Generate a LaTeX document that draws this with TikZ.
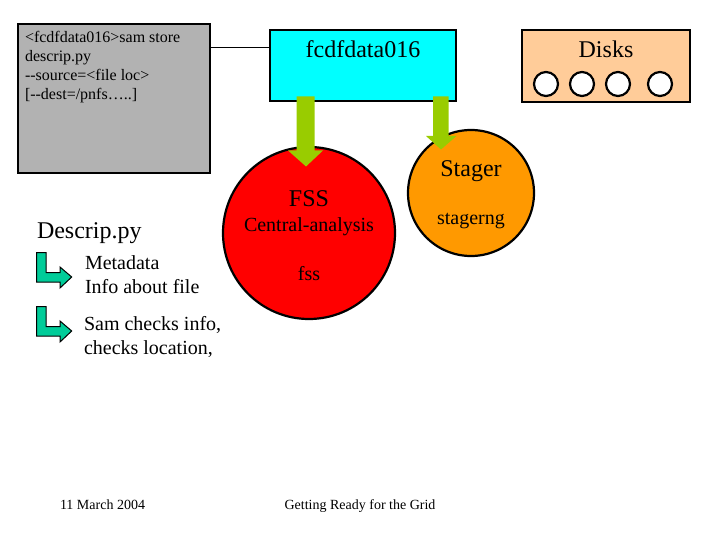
\documentclass[tikz,border=0pt]{standalone}
\usepackage{fontspec}
\setmainfont{Liberation Serif}
\newcommand{\fpx}[1]{\fontsize{#1pt}{#1pt}\selectfont}
\tikzset{
  boxshape/.style={draw=black,line width=2.2pt,rectangle,inner sep=0pt,outer sep=0pt,anchor=north west},
  ballshape/.style={draw=black,line width=2.2pt,circle,inner sep=0pt,outer sep=0pt},
  disk/.style={ballshape,fill=white,minimum size=24pt},
  greenarrow/.style={fill=arrowgreen,draw=none},
  bentarrow/.style={fill=bentgreen,draw=black,line width=1pt,line join=miter},
  label/.style={inner sep=0pt,outer sep=0pt,anchor=base west,text=black},
  labelc/.style={inner sep=0pt,outer sep=0pt,anchor=base,text=black}
}
\definecolor{arrowgreen}{HTML}{99CC00}
\definecolor{bentgreen}{HTML}{00CC99}
\definecolor{graybox}{HTML}{B2B2B2}
\definecolor{diskbox}{HTML}{FFCC99}
\definecolor{stagerorange}{HTML}{FF9900}
\definecolor{hostcyan}{HTML}{00FFFF}
\definecolor{fssred}{HTML}{FF0000}
\begin{document}
\begin{tikzpicture}[x=1pt,y=-1pt]
\useasboundingbox (0,0) rectangle (720,540);
% boxes
\node[boxshape,fill=graybox,minimum width=192pt,minimum height=149pt] (gray) at (18,24) {};
\node[boxshape,fill=hostcyan,minimum width=186pt,minimum height=71pt] (host) at (270,30) {};
\node[boxshape,fill=diskbox,minimum width=168pt,minimum height=72pt] (disks) at (522,30) {};
\coordinate (link) at (240,47.5);
\draw[black,line width=1.8pt] (gray.east |- link) -- (host.west |- link);
% disks
\node[disk] (d1) at (546,84) {};
\node[disk] (d2) at (582,84) {};
\node[disk] (d3) at (618,84) {};
\node[disk] (d4) at (660,84) {};
% circles
\node[ballshape,fill=fssred,minimum size=172pt] (fss) at (309,233) {};
\node[ballshape,fill=stagerorange,minimum size=126pt] (stager) at (471,193) {};
% block arrows
\fill[greenarrow] (296.5,96.5) -- (314.5,96.5) -- (314.5,150.5) -- (323,150.5) -- (306,166.5) -- (288,150.5) -- (296.5,150.5) -- cycle;
\fill[greenarrow] (433,96.5) -- (448.5,96.5) -- (448.5,136) -- (456.5,136) -- (441,149.5) -- (426,136) -- (433,136) -- cycle;
% bent arrows
\draw[bentarrow] (36.7,252.7) -- (46,252.7) -- (46,272.7) -- (60,272.7) -- (60,267) -- (71.7,277) -- (60,288) -- (60,282) -- (36.7,282) -- cycle;
\draw[bentarrow] (36.7,306.7) -- (46,306.7) -- (46,326.7) -- (60,326.7) -- (60,321) -- (71.7,331) -- (60,342) -- (60,336) -- (36.7,336) -- cycle;
% gray text
\node[label] (g1) at (25,43) {\fpx{16}<fcdfdata016>sam store};
\node[label] (g2) at (25,62) {\fpx{16}descrip.py};
\node[label] (g3) at (25,81) {\fpx{16}-{}-source=<file loc>};
\node[label] (g4) at (25,100) {\fpx{16}[-{}-dest=/pnfs…..]};
% titles
\node[labelc] (t1) at (363,58) {\fpx{24}fcdfdata016};
\node[labelc] (t2) at (606,58) {\fpx{24}Disks};
\node[labelc] (t3) at (471,177) {\fpx{24}Stager};
\node[labelc] (t4) at (309,207) {\fpx{24}FSS};
\node[labelc] (t5) at (309,232) {\fpx{20}Central-analysis};
\node[labelc] (t6) at (309,280) {\fpx{20}fss};
\node[labelc] (t7) at (471,225) {\fpx{20}stagerng};
\node[label] (t8) at (37,238) {\fpx{24}Descrip.py};
\node[label] (m1) at (85,269) {\fpx{20}Metadata};
\node[label] (m2) at (85,293) {\fpx{20}Info about file};
\node[label] (s1) at (84,330) {\fpx{20}Sam checks info,};
\node[label] (s2) at (84,354) {\fpx{20}checks location,};
\node[label] (f1) at (60,509) {\fpx{14}11 March 2004};
\node[labelc] (f2) at (360,509) {\fpx{14}Getting Ready for the Grid};
\end{tikzpicture}
\end{document}
